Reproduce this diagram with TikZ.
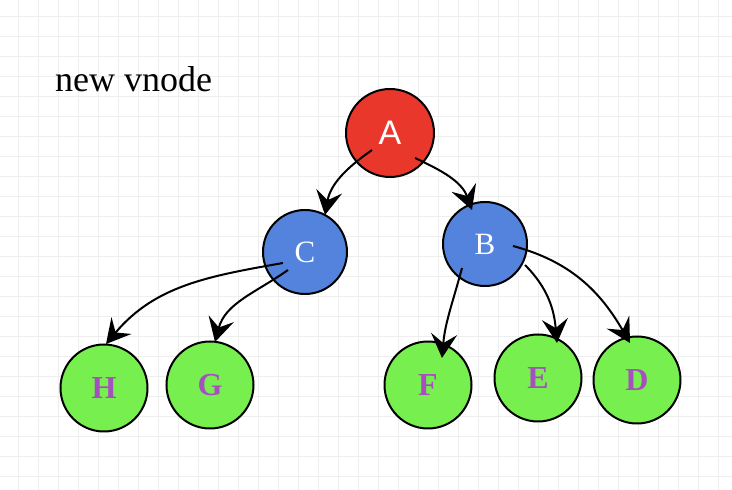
\documentclass[tikz,border=0pt]{standalone}
\usepackage{fontspec}
\setmainfont{Liberation Serif}
\setsansfont{Liberation Sans}
\usetikzlibrary{arrows.meta,calc}
\definecolor{gridc}{HTML}{EEEEEE}
\definecolor{redn}{HTML}{E9382B}
\definecolor{bluen}{HTML}{5383DD}
\definecolor{greenn}{HTML}{77F04F}
\definecolor{purp}{HTML}{A64FBE}
\tikzset{
  vn/.style={circle,draw=black,line width=2pt,inner sep=0pt},
  rednode/.style={vn,fill=redn,text=white,minimum size=88pt,font=\sffamily\fontsize{34}{34}\selectfont},
  bluenode/.style={vn,fill=bluen,text=white,minimum size=84pt,font=\fontsize{31}{31}\selectfont},
  greennode/.style={vn,fill=greenn,text=purp,minimum size=87pt,font=\bfseries\fontsize{32}{32}\selectfont},
  edge/.style={line width=2pt,-{Stealth[length=24pt,width=26pt,inset=9pt]}},
}
\begin{document}
\begin{tikzpicture}[x=1pt,y=1pt]
\useasboundingbox (0,0) rectangle (732,490);
\fill[white] (0,0) rectangle (732,490);
\foreach \i in {0,...,36} {\draw[gridc,line width=1.5pt] (18.3+20*\i,0) -- (18.3+20*\i,490);}
\foreach \j in {0,...,24} {\draw[gridc,line width=1.5pt] (0,13.3+20*\j) -- (732,13.3+20*\j);}
\node[anchor=base west,inner sep=0pt,font=\fontsize{36}{36}\selectfont] (title) at (55,398) {new vnode};
\node[rednode] (A) at (390,357) {A};
\node[bluenode] (C) at (305,238) {C};
\node[bluenode] (B) at (485,246) {B};
\node[greennode] (H) at (104,102) {H};
\node[greennode] (G) at (210,105) {G};
\node[greennode] (F) at (428,105) {F};
\node[greennode] (E) at (538,112) {E};
\node[greennode] (D) at (637,110) {D};
\draw[edge] ($(A)+(-18,-17)$) to[out=215,in=80] ($(C)+(20,37)$);
\draw[edge] ($(A)+(25,-25)$) to[out=-25,in=110] ($(B)+(-13,34)$);
\draw[edge] ($(C)+(-22,-11)$) to[out=190,in=50] ($(H)+(2,44)$);
\draw[edge] ($(C)+(-17,-18)$) to[out=215,in=75] ($(G)+(5,43)$);
\draw[edge] ($(B)+(-23,-24)$) to[out=-105,in=85] ($(F)+(14,27)$);
\draw[edge] ($(B)+(40,-21)$) to[out=-45,in=95] ($(E)+(19,35)$);
\draw[edge] ($(B)+(28,-2)$) to[out=-15,in=120] ($(D)+(-7,37)$);
\end{tikzpicture}
\end{document}
